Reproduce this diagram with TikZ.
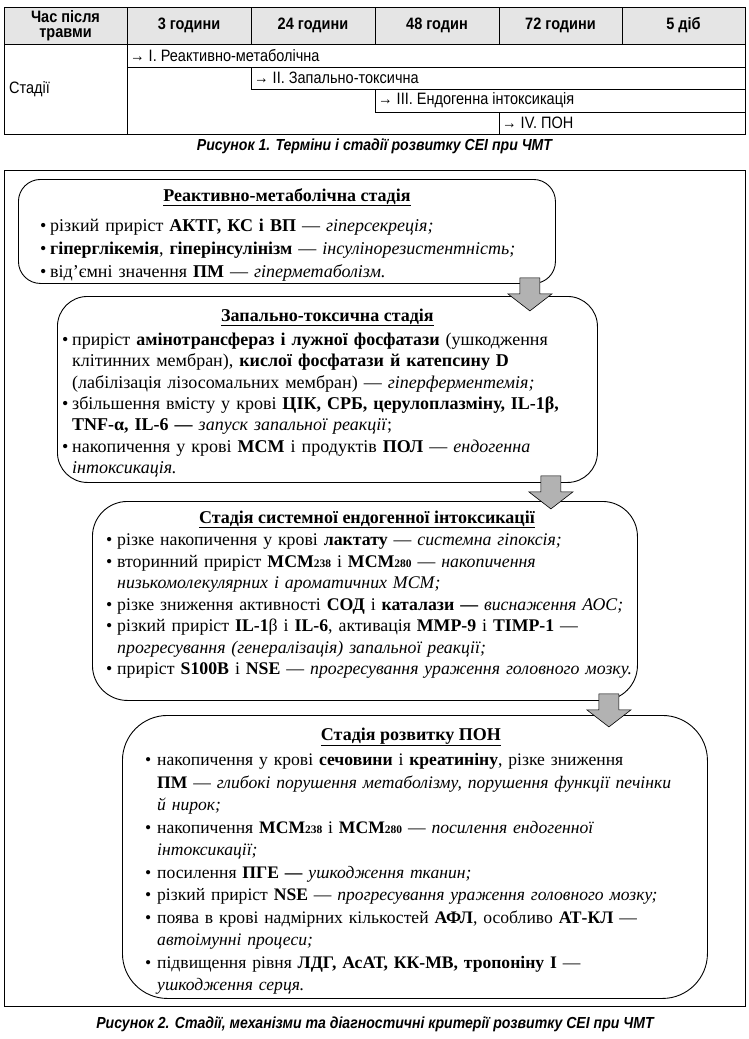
\documentclass[tikz,border=0pt]{standalone}
\usepackage{fontspec}
\setmainfont{Liberation Serif}
\newfontfamily\tabfont{Liberation Sans}[FakeStretch=0.88]
\usetikzlibrary{positioning,calc}

\newlength\bulhang
\newcommand\itm{\par\hangindent=\bulhang\hangafter=1\noindent\strut\makebox[\bulhang][l]{•}}
\newcommand\msub[1]{{\fontsize{11.5}{11}\selectfont\textbf{#1}}}

\tikzset{
  tabline/.style = {line width=0.7pt},
  hcell/.style = {inner sep=0pt, align=center, font=\tabfont\bfseries\fontsize{16.5}{15}\selectfont},
  cell/.style = {inner sep=0pt, anchor=west, font=\tabfont\fontsize{16.5}{15}\selectfont},
  caption/.style = {inner sep=0pt, font=\tabfont\bfseries\itshape\fontsize{16}{15}\selectfont},
  stagebox/.style = {draw, line width=0.9pt, anchor=north west, inner sep=0pt},
  stagetitle/.style = {inner sep=0pt, anchor=base, font=\bfseries\fontsize{18}{20}\selectfont},
  stagelist/.style = {inner sep=0pt, text width=640pt, align=left},
  flow/.style = {draw, line width=0.6pt, fill=gray!60},
}

\begin{document}
\begin{tikzpicture}[x=1pt,y=-1pt]
  \useasboundingbox (0,0) rectangle (748,1039);

  % table
  \fill[gray!20] (4,7) rectangle (745,44);
  \draw[tabline] (4,7) rectangle (745,134);
  \draw[tabline] (4,44) -- (745,44);
  \foreach \x in {251,375,499,622}
    \draw[tabline] (\x,7) -- (\x,44);
  \draw[tabline] (127,7) -- (127,134);
  \draw[tabline] (127,67) -- (745,67);
  \draw[tabline] (251,67) -- (251,89) -- (745,89);
  \draw[tabline] (375,89) -- (375,112) -- (745,112);
  \draw[tabline] (499,112) -- (499,134);

  \node[hcell] (h0) at (65.5,25.5) {Час після\\травми};
  \foreach \x/\t [count=\i] in {189/3 години, 313/24 години, 437/48 годин, 560.5/72 години, 683.5/5 діб}
    \node[hcell] (h\i) at (\x,25.5) {\t};

  \node[cell] (st) at (9,89) {Стадії};
  \node[cell] (r1) at (130,55.5) {→ I. Реактивно-метаболічна};
  \node[cell] (r2) at (254,78) {→ II. Запально-токсична};
  \node[cell] (r3) at (378,100.5) {→ III. Ендогенна інтоксикація};
  \node[cell] (r4) at (502,123) {→ IV. ПОН};

  \node[caption] (cap1) at (374.5,146) {Рисунок 1. Терміни і стадії розвитку СЕІ при ЧМТ};

  % stages
  \draw[tabline] (4,170) rectangle (745,1006);

  \node[stagebox, minimum width=537pt, minimum height=104pt, rounded corners=22pt] (s1) at (18,179) {};
  \node[stagetitle] (s1t) at ($(s1.north)+(0,22)$) {\underline{Реактивно-метаболічна стадія}};
  \node[stagelist, font=\fontsize{18}{23}\selectfont, below right=29pt and 22pt of s1.north west] (s1l) {%
    \setlength\bulhang{10pt}%
    \itm різкий приріст \textbf{АКТГ, КС і ВП} — \textit{гіперсекреція;}
    \itm \textbf{гіперглікемія}, \textbf{гіперінсулінізм} — \textit{інсулінорезистентність;}
    \itm від’ємні значення \textbf{ПМ} — \textit{гіперметаболізм.}\par};

  \node[stagebox, minimum width=540pt, minimum height=186pt, rounded corners=30pt] (s2) at (57,296) {};
  \node[stagetitle] (s2t) at ($(s2.north)+(0,25)$) {\underline{Запально-токсична стадія}};
  \node[stagelist, font=\fontsize{18}{21.3}\selectfont, below right=28pt and 5pt of s2.north west] (s2l) {%
    \setlength\bulhang{10pt}%
    \itm приріст \textbf{амінотрансфераз і лужної фосфатази} (ушкодження\newline клітинних мембран), \textbf{кислої фосфатази й катепсину D}\newline (лабілізація лізосомальних мембран) — \textit{гіперферментемія;}
    \itm збільшення вмісту у крові \textbf{ЦІК, СРБ, церулоплазміну, IL-1β,}\newline \textbf{TNF-α, IL-6 —} \textit{запуск запальної реакції};
    \itm накопичення у крові \textbf{МСМ} і продуктів \textbf{ПОЛ} — \textit{ендогенна}\newline \textit{інтоксикація.}\par};

  \node[stagebox, minimum width=545pt, minimum height=199pt, rounded corners=35pt] (s3) at (92,501) {};
  \node[stagetitle] (s3t) at ($(s3.north)+(2,22)$) {\underline{Стадія системної ендогенної інтоксикації}};
  \node[stagelist, font=\fontsize{17.8}{21.5}\selectfont, below right=23pt and 14pt of s3.north west] (s3l) {%
    \setlength\bulhang{11pt}%
    \itm різке накопичення у крові \textbf{лактату} — \textit{системна гіпоксія;}
    \itm вторинний приріст \textbf{МСМ}\msub{238} і \textbf{МСМ}\msub{280} — \textit{накопичення}\newline \textit{низькомолекулярних і ароматичних МСМ;}
    \itm різке зниження активності \textbf{СОД} і \textbf{каталази} \textbf{—} \textit{виснаження АОС;}
    \itm різкий приріст \textbf{IL-1}β і \textbf{IL-6}, активація \textbf{MMP-9} і \textbf{TIMP-1} —\newline \textit{прогресування (генералізація) запальної реакції;}
    \itm приріст \textbf{S100B} і \textbf{NSE} — \textit{прогресування ураження головного мозку.}\par};

  \node[stagebox, minimum width=585pt, minimum height=283pt, rounded corners=45pt] (s4) at (122,715) {};
  \node[stagetitle] (s4t) at ($(s4.north)+(-4,25)$) {\underline{Стадія розвитку ПОН}};
  \node[stagelist, font=\fontsize{17.6}{22.5}\selectfont, below right=28pt and 23pt of s4.north west] (s4l) {%
    \setlength\bulhang{12pt}%
    \itm накопичення у крові \textbf{сечовини} і \textbf{креатиніну}, різке зниження\newline \textbf{ПМ} — \textit{глибокі порушення метаболізму, порушення функції печінки}\newline \textit{й нирок;}
    \itm накопичення \textbf{МСМ}\msub{238} і \textbf{МСМ}\msub{280} — \textit{посилення ендогенної}\newline \textit{інтоксикації;}
    \itm посилення \textbf{ПГЕ —} \textit{ушкодження тканин;}
    \itm різкий приріст \textbf{NSE} — \textit{прогресування ураження головного мозку;}
    \itm поява в крові надмірних кількостей \textbf{АФЛ}, особливо \textbf{АТ-КЛ} —\newline \textit{автоімунні процеси;}
    \itm підвищення рівня \textbf{ЛДГ, АсАТ, КК-МВ, тропоніну І} —\newline \textit{ушкодження серця.}\par};

  % block arrows between stages
  \foreach \b/\dx/\dy in {s1/26/6, s2/47/7, s3/29/7}
    \draw[flow] ($(\b.south east)+(-\dx-10,-\dy)$) -- ++(20,0) -- ++(0,16) -- ++(12,0)
      -- ++(-22,17) -- ++(-22,-17) -- ++(12,0) -- cycle;

  \node[caption] (cap2) at (375,1024) {Рисунок 2. Стадії, механізми та діагностичні критерії розвитку СЕІ при ЧМТ};
\end{tikzpicture}
\end{document}
